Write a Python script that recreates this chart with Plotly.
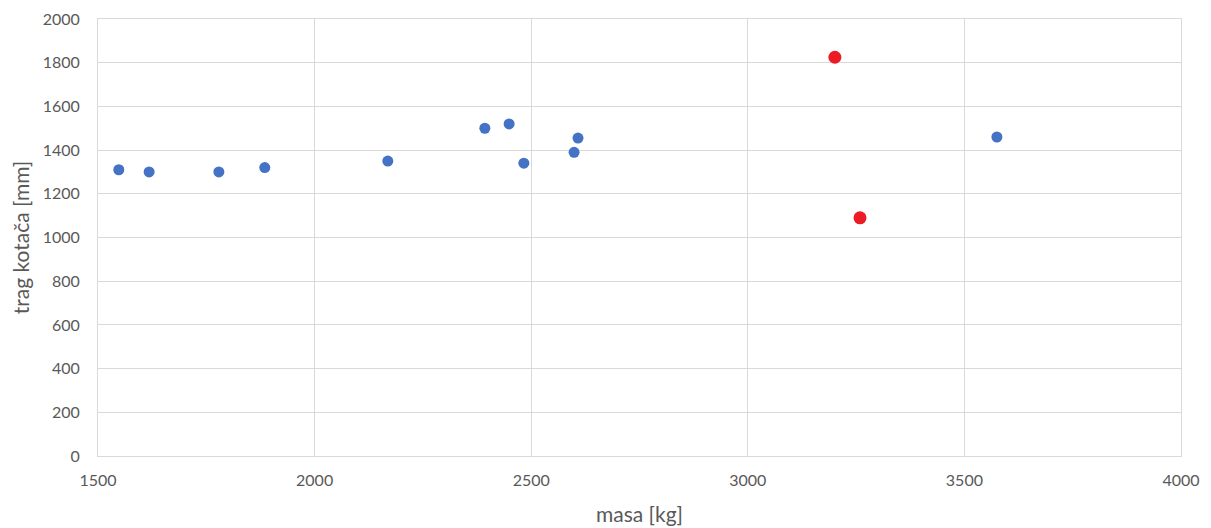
import plotly.graph_objects as go

mass_blue = [1548, 1618, 1779, 1885, 2169, 2393, 2449, 2483, 2599, 2608, 3575]
track_blue = [1310, 1300, 1300, 1320, 1350, 1500, 1520, 1340, 1390, 1455, 1460]
mass_red = [3201, 3259]
track_red = [1825, 1090]

x_ticks = [1500, 2000, 2500, 3000, 3500, 4000]
y_ticks = [0, 200, 400, 600, 800, 1000, 1200, 1400, 1600, 1800, 2000]

fig = go.Figure()
fig.add_trace(go.Scatter(x=mass_blue, y=track_blue, mode="markers",
                         marker=dict(color="#4472C4", size=11), showlegend=False, cliponaxis=False))
fig.add_trace(go.Scatter(x=mass_red, y=track_red, mode="markers",
                         marker=dict(color="#EC1C24", size=13), showlegend=False, cliponaxis=False))

font_family = "Lato, Open Sans, sans-serif"
fig.update_layout(
    width=1203, height=520,
    margin=dict(l=90, r=30, t=11, b=72, autoexpand=False),
    plot_bgcolor="white", paper_bgcolor="white",
    font=dict(family=font_family, color="#595959"),
)
fig.update_xaxes(range=[1500, 4000], tickvals=x_ticks, showgrid=True, gridcolor="#D9D9D9",
                 gridwidth=1, zeroline=False, showline=True, linecolor="#D9D9D9", mirror=True,
                 tickfont=dict(size=16, color="#595959"), ticks="outside", ticklen=10,
                 tickcolor="rgba(0,0,0,0)", automargin=False, ticklabeloverflow="allow",
                 title=dict(text="masa [kg]", font=dict(size=21, color="#595959"), standoff=19))
fig.update_yaxes(range=[0, 2000], tickvals=y_ticks, showgrid=True, gridcolor="#D9D9D9",
                 gridwidth=1, zeroline=False, showline=True, linecolor="#D9D9D9", mirror=True,
                 tickfont=dict(size=16, color="#595959"), ticks="outside", ticklen=14,
                 tickcolor="rgba(0,0,0,0)", automargin=False, ticklabeloverflow="allow",
                 title=dict(text="trag kotača [mm]", font=dict(size=21, color="#595959"), standoff=12))

fig.write_html("out.html")
